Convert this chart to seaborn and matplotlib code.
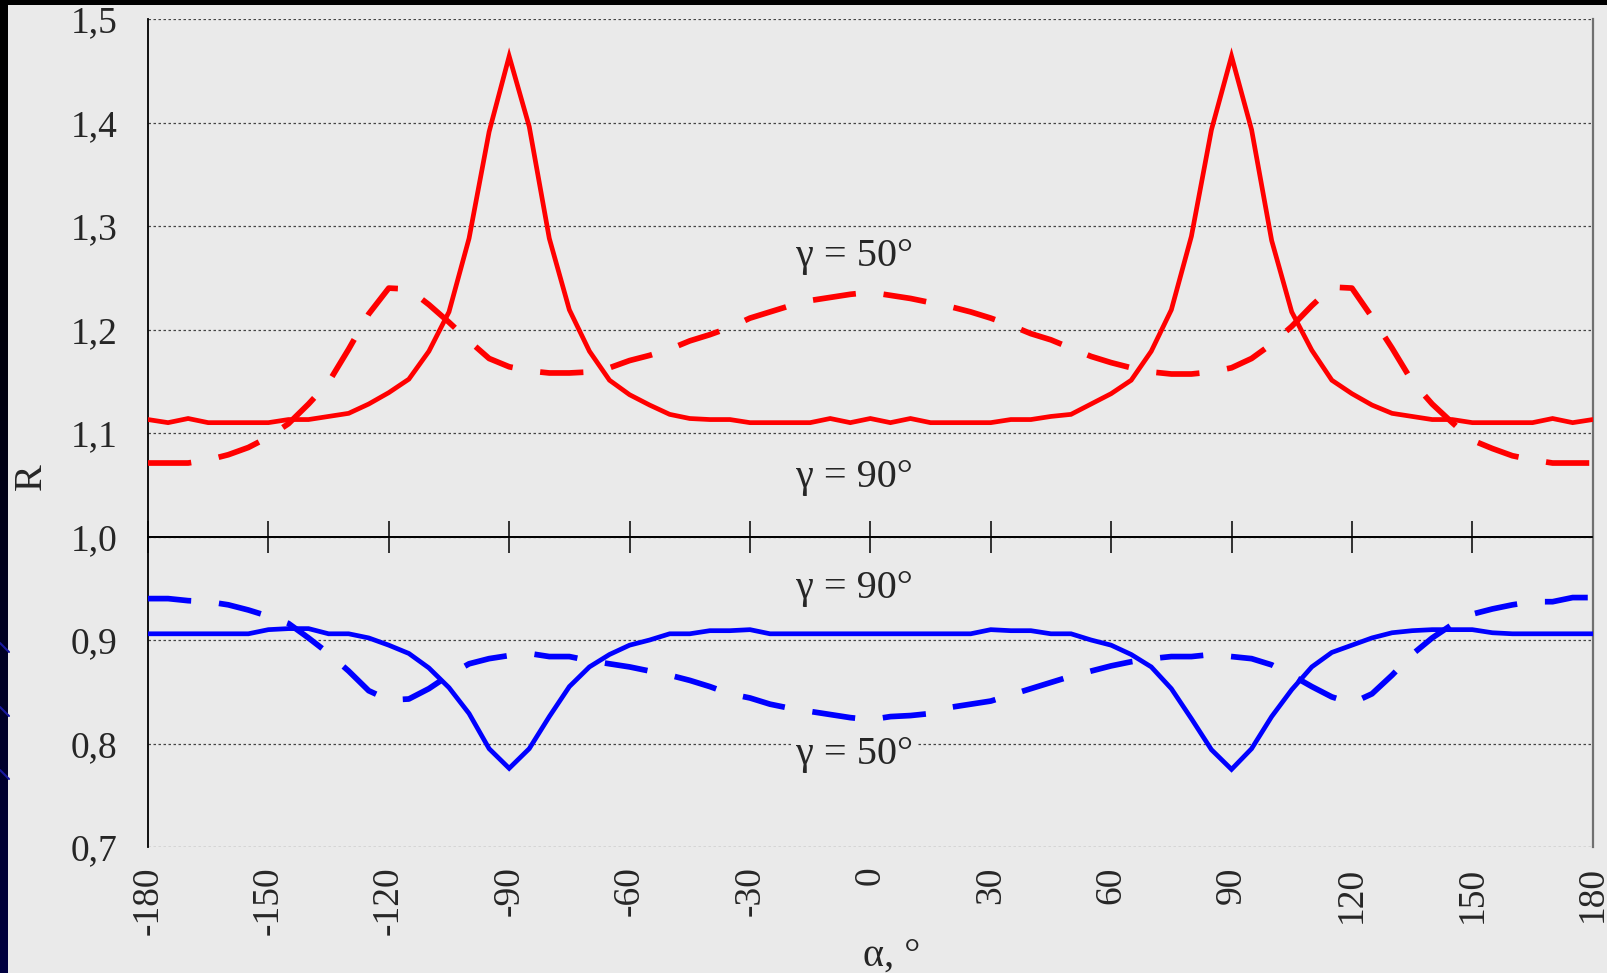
import numpy as np
import matplotlib
matplotlib.use("Agg")
import matplotlib.pyplot as plt
from matplotlib.lines import Line2D
from matplotlib.ticker import MultipleLocator, FixedLocator
import seaborn as sns

# Angle grid (degrees) shared by all four curves
alpha = list(range(-180, 181, 5))

# R for gamma = 90 deg, R > 1 branch (solid red)
r_red_90 = [1.113, 1.110, 1.114, 1.110, 1.110, 1.110, 1.110, 1.113, 1.113, 1.116,
            1.119, 1.128, 1.139, 1.152, 1.179, 1.217, 1.288, 1.391, 1.464, 1.396,
            1.288, 1.219, 1.179, 1.151, 1.137, 1.127, 1.118, 1.114, 1.113, 1.113,
            1.110, 1.110, 1.110, 1.110, 1.114, 1.110, 1.114, 1.110, 1.114, 1.110,
            1.110, 1.110, 1.110, 1.113, 1.113, 1.116, 1.118, 1.128, 1.138, 1.151,
            1.179, 1.219, 1.290, 1.393, 1.464, 1.393, 1.286, 1.217, 1.180, 1.151,
            1.138, 1.127, 1.119, 1.116, 1.113, 1.113, 1.110, 1.110, 1.110, 1.110,
            1.114, 1.110, 1.113]

# R for gamma = 50 deg, R > 1 branch (dashed red)
r_red_50 = [1.071, 1.071, 1.071, 1.074, 1.079, 1.086, 1.096, 1.109, 1.128, 1.149,
            1.181, 1.215, 1.240, 1.239, 1.224, 1.207, 1.189, 1.172, 1.164, 1.160,
            1.158, 1.158, 1.159, 1.163, 1.170, 1.175, 1.181, 1.189, 1.195, 1.202,
            1.211, 1.217, 1.223, 1.228, 1.231, 1.234, 1.236, 1.233, 1.230, 1.226,
            1.222, 1.217, 1.211, 1.204, 1.196, 1.190, 1.182, 1.174, 1.168, 1.163,
            1.159, 1.157, 1.157, 1.159, 1.163, 1.172, 1.186, 1.203, 1.223, 1.241,
            1.240, 1.212, 1.182, 1.150, 1.128, 1.110, 1.093, 1.085, 1.078, 1.074,
            1.071, 1.071, 1.071]

# R for gamma = 90 deg, R < 1 branch (solid blue)
r_blue_90 = [0.906, 0.906, 0.906, 0.906, 0.906, 0.906, 0.910, 0.911, 0.911, 0.906,
             0.906, 0.902, 0.895, 0.887, 0.873, 0.854, 0.829, 0.795, 0.776, 0.795,
             0.826, 0.855, 0.874, 0.886, 0.895, 0.900, 0.906, 0.906, 0.909, 0.909,
             0.910, 0.906, 0.906, 0.906, 0.906, 0.906, 0.906, 0.906, 0.906, 0.906,
             0.906, 0.906, 0.910, 0.909, 0.909, 0.906, 0.906, 0.900, 0.895, 0.886,
             0.874, 0.853, 0.824, 0.794, 0.775, 0.795, 0.826, 0.852, 0.874, 0.888,
             0.895, 0.902, 0.907, 0.909, 0.910, 0.910, 0.910, 0.907, 0.906, 0.906,
             0.906, 0.906, 0.906]

# R for gamma = 50 deg, R < 1 branch (dashed blue)
r_blue_50 = [0.940, 0.940, 0.938, 0.937, 0.934, 0.929, 0.923, 0.916, 0.902, 0.887,
             0.870, 0.851, 0.842, 0.843, 0.853, 0.866, 0.877, 0.882, 0.885, 0.887,
             0.884, 0.884, 0.880, 0.877, 0.874, 0.870, 0.866, 0.861, 0.855, 0.848,
             0.844, 0.838, 0.834, 0.831, 0.828, 0.825, 0.823, 0.826, 0.827, 0.829,
             0.835, 0.838, 0.841, 0.847, 0.853, 0.859, 0.865, 0.870, 0.875, 0.879,
             0.882, 0.884, 0.884, 0.886, 0.884, 0.882, 0.876, 0.866, 0.855, 0.845,
             0.839, 0.848, 0.866, 0.886, 0.902, 0.915, 0.925, 0.930, 0.934, 0.937,
             0.937, 0.941, 0.941]

x_ticks = [-180, -150, -120, -90, -60, -30, 0, 30, 60, 90, 120, 150, 180]
x_tick_labels = ["-180", "-150", "-120", "-90", "-60", "-30", "0",
                 "30", "60", "90", "120", "150", "180"]
y_ticks = [0.7, 0.8, 0.9, 1.0, 1.1, 1.2, 1.3, 1.4, 1.5]
y_tick_labels = ["0,7", "0,8", "0,9", "1,0", "1,1", "1,2", "1,3", "1,4", "1,5"]

curve_labels = [("γ = 50°", -3.9, 1.2616),
                ("γ = 90°", -3.9, 1.0478),
                ("γ = 90°", -3.9, 0.9403),
                ("γ = 50°", -3.9, 0.7802)]

BG = "#EAEAEA"

sns.set_style("white")
plt.rcParams["font.family"] = ["Liberation Serif", "DejaVu Serif"]

fig = plt.figure(figsize=(16.07, 9.73), dpi=100, facecolor=BG)
ax = fig.add_axes([148 / 1607, 1 - 847 / 973, (1592.7 - 148) / 1607, (847 - 19) / 973])
ax.set_facecolor(BG)

solid_lw = 3.4
dash_lw = 4.1
dash_pat = (0, (7.6, 4.9))

sns.lineplot(x=alpha, y=r_red_90, ax=ax, color="#FF0000", lw=solid_lw,
             solid_joinstyle="miter", zorder=4)
sns.lineplot(x=alpha, y=r_red_50, ax=ax, color="#FF0000", lw=dash_lw,
             linestyle=dash_pat, dash_capstyle="butt", zorder=4)
sns.lineplot(x=alpha, y=r_blue_90, ax=ax, color="#0000FF", lw=solid_lw,
             solid_joinstyle="miter", zorder=4)
sns.lineplot(x=alpha, y=r_blue_50, ax=ax, color="#0000FF", lw=dash_lw,
             linestyle=dash_pat, dash_capstyle="butt", zorder=4)

ax.set_xlim(-180, 180)
ax.set_ylim(0.7, 1.5)

# Y axis: outward major ticks, inward minor ticks, comma decimals
ax.yaxis.set_major_locator(FixedLocator(y_ticks))
ax.set_yticklabels(y_tick_labels)
ax.yaxis.set_minor_locator(MultipleLocator(0.05))
ax.tick_params(axis="y", which="major", direction="out", length=8, width=1.2,
               color="#333333", labelsize=27, pad=14)
ax.tick_params(axis="y", which="minor", direction="in", length=6.5, width=1.0,
               color="#333333")
ax.yaxis.grid(True, which="major", color="#444444", lw=0.9, linestyle=(0, (2, 2)))

# X axis labels sit at the bottom, rotated
ax.set_xticks(x_ticks)
ax.set_xticklabels(x_tick_labels, rotation=90, va="top")
ax.tick_params(axis="x", which="both", length=0, labelsize=27, pad=14)
ax.xaxis.grid(False)
ax.set_xlabel("")
ax.set_ylabel("")

for side in ("top", "bottom"):
    ax.spines[side].set_visible(False)
ax.spines["left"].set_color("black")
ax.spines["left"].set_linewidth(1.3)
ax.spines["right"].set_color("#707070")
ax.spines["right"].set_linewidth(1.6)

# Horizontal reference axis at R = 1 with crossing ticks
ax.axhline(1.0, color="black", lw=1.3, zorder=3)
sec = ax.secondary_xaxis((1.0 - 0.7) / 0.8)
sec.set_xticks(x_ticks)
sec.tick_params(axis="x", direction="inout", length=23, width=1.1, color="black",
                labelbottom=False, labeltop=False)
for s in sec.spines.values():
    s.set_color("black")
    s.set_linewidth(1.3)

for text, xa, ya in curve_labels:
    ax.text(xa, ya, text, fontsize=29, ha="center", va="baseline", zorder=5,
            bbox=dict(boxstyle="square,pad=0.1", fc=BG, ec="none"))

fig.text(31 / 1607, 1 - 477 / 973, "R", fontsize=29, rotation=90,
         ha="center", va="center")
fig.text(892 / 1607, 1 - 966 / 973, "α, °", fontsize=29, ha="center",
         va="baseline")

# Dark frame strips along the top and left edges
fig.patches.append(plt.Rectangle((0, 1 - 5 / 973), 1, 5 / 973, transform=fig.transFigure,
                                 fc="black", ec="none", zorder=10))
strip = fig.add_axes([0, 0, 8 / 1607, 1 - 5 / 973])
grad = np.linspace(0, 1, 256).reshape(-1, 1)
strip.imshow(np.dstack([0 * grad, 0 * grad, 0.25 * grad ** 1.5]), aspect="auto",
             origin="upper", extent=[0, 1, 0, 1])
strip.set_axis_off()
for y0 in (643, 707, 770):
    fig.lines.append(Line2D([0, 9 / 1607], [1 - y0 / 973, 1 - (y0 + 9) / 973],
                            transform=fig.transFigure, color="#1a1aa0", lw=1.5,
                            zorder=11))

fig.savefig("out.png", dpi=100, facecolor=BG)
